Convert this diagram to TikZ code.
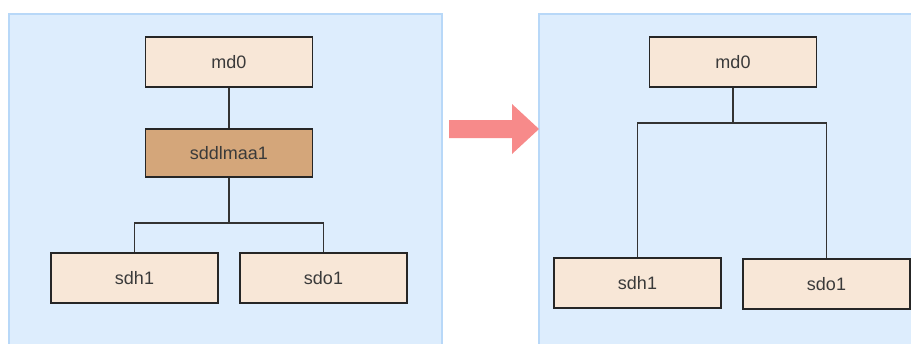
\documentclass[tikz,border=0pt]{standalone}
\usepackage{fontspec}
\setmainfont{Liberation Sans}
\definecolor{panelfill}{HTML}{DDEDFD}
\definecolor{panelline}{HTML}{B8D8F8}
\definecolor{boxfill}{HTML}{F8E7D7}
\definecolor{boxdark}{HTML}{D4A67A}
\definecolor{arrowred}{HTML}{F78A8A}
\definecolor{txt}{HTML}{3A3A3A}
\begin{document}
\begin{tikzpicture}[x=1pt,y=-1pt,
  panel/.style={fill=panelfill,draw=panelline,line width=1.2pt},
  devbox/.style={draw=black!85,line width=1.3pt,fill=boxfill,minimum width=167pt,minimum height=50pt,inner sep=0pt,text=txt,font=\fontsize{18}{21}\selectfont},
  darkbox/.style={devbox,fill=boxdark},
  link/.style={draw=black!80,line width=1.3pt}]
\useasboundingbox (0,0) rectangle (911,343);
\clip (0,0) rectangle (911,343);
% panels
\draw[panel] (9,14) rectangle (442,350);
\draw[panel] (539,14) rectangle (920,350);
% transition arrow
\fill[arrowred] (449,120) -- (512,120) -- (512,104) -- (539,129) -- (512,154) -- (512,138) -- (449,138) -- cycle;
% left tree
\node[devbox] (lmd) at (229,62) {md0};
\node[darkbox,minimum height=48pt] (lsdd) at (229,153) {sddlmaa1};
\node[devbox] (lsdh) at (134.5,278) {sdh1};
\node[devbox] (lsdo) at (323.5,278) {sdo1};
\coordinate (lj) at (229,223);
\draw[link] (lmd.south) -- (lsdd.north);
\draw[link] (lsdd.south) -- (lj);
\draw[link] (lsdh.north) |- (lj) -| (lsdo.north);
% right tree
\node[devbox] (rmd) at (733,62) {md0};
\node[devbox] (rsdh) at (637.5,283) {sdh1};
\node[devbox] (rsdo) at (826.5,284) {sdo1};
\coordinate (rj) at (733,123);
\draw[link] (rmd.south) -- (rj);
\draw[link] (rsdh.north) |- (rj) -| (rsdo.north);
\end{tikzpicture}
\end{document}
